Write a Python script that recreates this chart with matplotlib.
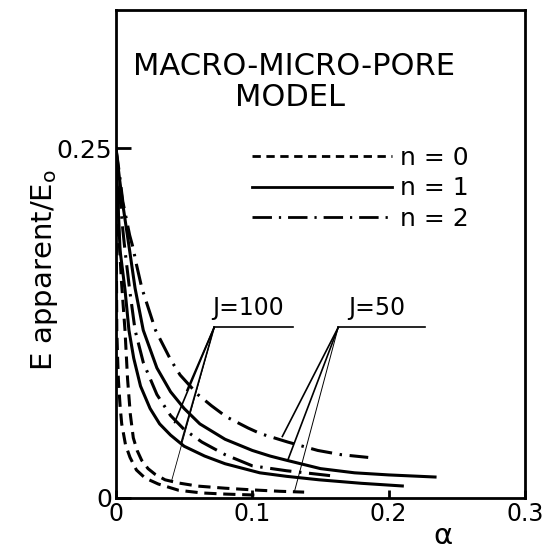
import matplotlib
matplotlib.use("Agg")
import matplotlib.pyplot as plt
from matplotlib.lines import Line2D

# curve data (alpha, E_apparent/E_o)
a_d100 = [0, 0.0003, 0.0006, 0.0012, 0.0018, 0.003, 0.0042, 0.007, 0.0103, 0.015, 0.0213, 0.031, 0.046, 0.063, 0.08, 0.105]
e_d100 = [0.25, 0.17, 0.12, 0.10, 0.084, 0.066, 0.053, 0.038, 0.029, 0.020, 0.0143, 0.010, 0.0055, 0.0036, 0.0028, 0.002]

a_d50 = [0, 0.002, 0.004, 0.0066, 0.0085, 0.0105, 0.0127, 0.0155, 0.0188, 0.0235, 0.0286, 0.036, 0.046, 0.06, 0.08, 0.1, 0.12, 0.138]
e_d50 = [0.25, 0.19, 0.155, 0.12, 0.085, 0.06, 0.043, 0.034, 0.027, 0.021, 0.017, 0.013, 0.0107, 0.0085, 0.007, 0.0058, 0.0048, 0.0042]

a_s100 = [0, 0.0015, 0.003, 0.0066, 0.0095, 0.013, 0.018, 0.025, 0.032, 0.04, 0.05, 0.065, 0.08, 0.1055, 0.125, 0.149, 0.18, 0.21]
e_s100 = [0.25, 0.21, 0.177, 0.149, 0.12, 0.100, 0.080, 0.064, 0.053, 0.045, 0.037, 0.030, 0.0245, 0.018, 0.0155, 0.013, 0.0105, 0.0086]

a_s50 = [0, 0.0025, 0.005, 0.01, 0.014, 0.02, 0.03, 0.04, 0.05, 0.0615, 0.08, 0.1, 0.113, 0.125, 0.15, 0.175, 0.2, 0.234]
e_s50 = [0.25, 0.229, 0.21, 0.177, 0.150, 0.120, 0.093, 0.076, 0.064, 0.053, 0.042, 0.034, 0.030, 0.027, 0.021, 0.018, 0.0165, 0.015]

a_dd100 = [0, 0.0025, 0.005, 0.0066, 0.01, 0.014, 0.02, 0.03, 0.04, 0.05, 0.063, 0.08, 0.1, 0.125, 0.157]
e_dd100 = [0.25, 0.22, 0.192, 0.177, 0.149, 0.12, 0.097, 0.074, 0.059, 0.049, 0.040, 0.031, 0.023, 0.0195, 0.016]

a_dd50 = [0, 0.0025, 0.005, 0.01, 0.0125, 0.015, 0.019, 0.029, 0.04, 0.047, 0.06, 0.07, 0.081, 0.097, 0.106, 0.126, 0.148, 0.165, 0.185]
e_dd50 = [0.25, 0.232, 0.212, 0.188, 0.179, 0.167, 0.150, 0.120, 0.099, 0.088, 0.074, 0.066, 0.058, 0.050, 0.046, 0.040, 0.034, 0.031, 0.029]

# leader lines for the J labels: apex, then the curve points they reach
j100_apex = (0.072, 0.122)
j100_ends = [(0.052, 0.077), (0.043, 0.054), (0.048, 0.040), (0.041, 0.013)]
j100_bar = [0.072, 0.130]
j50_apex = (0.163, 0.122)
j50_ends = [(0.122, 0.044), (0.126, 0.027), (0.131, 0.005)]
j50_bar = [0.163, 0.227]

x_ticks = [0, 0.1, 0.2, 0.3]
x_labels = ["0", "0.1", "0.2", "0.3"]
y_ticks = [0, 0.25]
y_labels = ["0", "0.25"]
legend_labels = ["n = 0", "n = 1", "n = 2"]

fig = plt.figure(figsize=(5.43, 5.54), dpi=100)
ax = fig.add_axes([0.2136, 0.1011, 0.7533, 0.8809])

lw = 2.2
dash = (4, 2.2)
dashdot = (7, 2.5, 0.8, 2.5)

ax.plot(a_d100, e_d100, color="black", lw=lw, dashes=dash)
ax.plot(a_d50, e_d50, color="black", lw=lw, dashes=dash)
ax.plot(a_s100, e_s100, color="black", lw=lw)
ax.plot(a_s50, e_s50, color="black", lw=lw)
ax.plot(a_dd100, e_dd100, color="black", lw=lw, dashes=dashdot)
ax.plot(a_dd50, e_dd50, color="black", lw=lw, dashes=dashdot)

for (x1, y1), w in zip(j100_ends, [1.2, 1.2, 1.2, 0.6]):
    ax.plot([j100_apex[0], x1], [j100_apex[1], y1], color="black", lw=w)
ax.plot(j100_bar, [j100_apex[1]] * 2, color="black", lw=1.2)
for (x1, y1), w in zip(j50_ends, [1.2, 1.2, 0.7]):
    ax.plot([j50_apex[0], x1], [j50_apex[1], y1], color="black", lw=w)
ax.plot(j50_bar, [j50_apex[1]] * 2, color="black", lw=1.2)

ax.text(0.0968, 0.1357, "J=100", fontsize=17, ha="center", va="center")
ax.text(0.1915, 0.1357, "J=50", fontsize=17, ha="center", va="center")

ax.text(0.1306, 0.3086, "MACRO-MICRO-PORE", fontsize=22, ha="center", va="center")
ax.text(0.1277, 0.2866, "MODEL", fontsize=22, ha="center", va="center")

handles = [
    Line2D([], [], color="black", lw=2.0, dashes=(3, 2)),
    Line2D([], [], color="black", lw=2.0),
    Line2D([], [], color="black", lw=2.0, dashes=(7, 2.5, 0.8, 2.5)),
]
ax.legend(handles, legend_labels, frameon=False, fontsize=18,
          handlelength=5.6, handletextpad=0.3, labelspacing=0.25,
          borderpad=0, borderaxespad=0, loc="upper left",
          bbox_to_anchor=(252 / 543, 1 - 146 / 554), bbox_transform=fig.transFigure)

ax.set_xlim(0, 0.3)
ax.set_ylim(0, 0.349)
ax.set_xticks(x_ticks)
ax.set_xticklabels(x_labels, fontsize=17)
ax.set_yticks(y_ticks)
ax.set_yticklabels(y_labels, fontsize=18)
ax.tick_params(axis="x", direction="in", length=6, width=2, pad=3)
ax.tick_params(axis="y", direction="in", length=11, width=2, pad=3)
for s in ax.spines.values():
    s.set_linewidth(2)

ax.set_ylabel(r"E apparent/E$_{\rm o}$", fontsize=21)
ax.yaxis.set_label_coords(-0.174, 0.467)
ax.yaxis.label.set_va("center")
ax.set_xlabel("α", fontsize=21)
ax.xaxis.set_label_coords(0.80, -0.078)
ax.xaxis.label.set_va("center")

plt.savefig("out.png", dpi=100)
